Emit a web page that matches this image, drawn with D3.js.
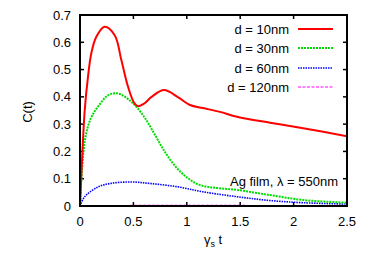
<!DOCTYPE html>
<html><head><meta charset="utf-8">
<script src="https://cdn.jsdelivr.net/npm/d3@7"></script>
<style>body{margin:0;background:#fff;}svg{display:block;font-family:"Liberation Sans",Arial,sans-serif;}</style>
</head><body>
<script>
const seriesNames = ["d = 10nm","d = 30nm","d = 60nm","d = 120nm"];
const colors = ["#ff0000","#00dd00","#0000ff","#ff00ff"];
const t10 = [0,0.012,0.044,0.075,0.106,0.153,0.23,0.325,0.387,0.45,0.51,0.545,0.6,0.67,0.787,0.92,1.03,1.15,1.31,1.47,1.78,2.09,2.5];
const c10 = [0,0.107,0.35,0.474,0.56,0.62,0.657,0.626,0.535,0.437,0.376,0.366,0.375,0.40,0.425,0.398,0.37,0.359,0.345,0.327,0.305,0.285,0.256];
const t30 = [0,0.02,0.05,0.1,0.17,0.26,0.35,0.48,0.6,0.7,0.8,0.9,1.0,1.1,1.2,1.31,1.47,1.78,2.09,2.5];
const c30 = [0,0.14,0.25,0.32,0.365,0.405,0.413,0.382,0.327,0.262,0.195,0.142,0.105,0.08,0.07,0.065,0.059,0.04,0.022,0.012];
const t60 = [0,0.044,0.17,0.29,0.48,0.67,0.92,1.15,1.47,1.78,2.09,2.5];
const c60 = [0,0.034,0.07,0.083,0.088,0.082,0.07,0.052,0.034,0.02,0.012,0.007];
const t120 = [0,0.5,1,1.5,2,2.5];
const c120 = [0,0.002,0.002,0.002,0.001,0.001];
const xTicks = [0,0.5,1,1.5,2,2.5];
const yTicks = [0,0.1,0.2,0.3,0.4,0.5,0.6,0.7];

const W=374,H=262, L=80,R=347,T=15,B=206;
const svg=d3.select("body").append("svg").attr("width",W).attr("height",H);
const x=d3.scaleLinear().domain([0,2.5]).range([L,R]);
const y=d3.scaleLinear().domain([0,0.7]).range([B,T]);

const tk=svg.append("g").attr("stroke","#000").attr("stroke-width",1.5);
xTicks.forEach(v=>{tk.append("line").attr("x1",x(v)).attr("x2",x(v)).attr("y1",B).attr("y2",B-4);
  tk.append("line").attr("x1",x(v)).attr("x2",x(v)).attr("y1",T).attr("y2",T+4);});
yTicks.forEach(v=>{tk.append("line").attr("x1",L).attr("x2",L+4).attr("y1",y(v)).attr("y2",y(v));
  tk.append("line").attr("x1",R).attr("x2",R-4).attr("y1",y(v)).attr("y2",y(v));});

const fs=13;
svg.append("g").selectAll("text").data(xTicks).join("text")
 .attr("x",d=>x(d)).attr("y",226).attr("text-anchor","middle").attr("font-size",fs).text(d=>d);
svg.append("g").selectAll("text").data(yTicks).join("text")
 .attr("x",71).attr("y",d=>y(d)+4.5).attr("text-anchor","end").attr("font-size",fs).text(d=>d);

const yt=svg.append("text").attr("x",213).attr("y",244).attr("text-anchor","middle").attr("font-size",fs);
yt.append("tspan").text("γ");
yt.append("tspan").attr("font-size",9).attr("dy",3).text("s");
yt.append("tspan").attr("dy",-3).text(" t");
svg.append("text").attr("transform","translate(32,112) rotate(-90)").attr("text-anchor","middle").attr("font-size",fs).text("C(t)");

const styles=[{w:2,d:null},{w:2,d:"2,1"},{w:1.6,d:"1.5,1"},{w:1.2,d:"3,1.5"}];
const data=[[t10,c10],[t30,c30],[t60,c60],[t120,c120]];
const line=d3.line().x(d=>x(d[0])).y(d=>y(d[1])).curve(d3.curveCatmullRom.alpha(0.5));
svg.append("clipPath").attr("id","cp").append("rect").attr("x",L).attr("y",T).attr("width",R-L).attr("height",B-T);
data.slice().reverse().forEach((s,ri)=>{const i=3-ri;
  const pts=s[0].map((t,k)=>[t,s[1][k]]);
  svg.append("path").attr("d",line(pts)).attr("fill","none").attr("stroke",colors[i])
   .attr("stroke-width",styles[i].w).attr("stroke-dasharray",styles[i].d).attr("clip-path","url(#cp)");
});

const ly=[29,48,68,87];
seriesNames.forEach((n,i)=>{
  svg.append("text").attr("x",289).attr("y",ly[i]+4.5).attr("text-anchor","end").attr("font-size",fs).text(n);
  svg.append("line").attr("x1",298).attr("x2",333).attr("y1",ly[i]).attr("y2",ly[i]).attr("stroke",colors[i])
   .attr("stroke-width",styles[i].w).attr("stroke-dasharray",styles[i].d);
});
svg.append("text").attr("x",338).attr("y",185.5).attr("text-anchor","end").attr("font-size",fs).text("Ag film, λ = 550nm");

svg.append("rect").attr("x",L).attr("y",T).attr("width",R-L).attr("height",B-T).attr("fill","none").attr("stroke","#000").attr("stroke-width",2);
</script>
</body></html>
